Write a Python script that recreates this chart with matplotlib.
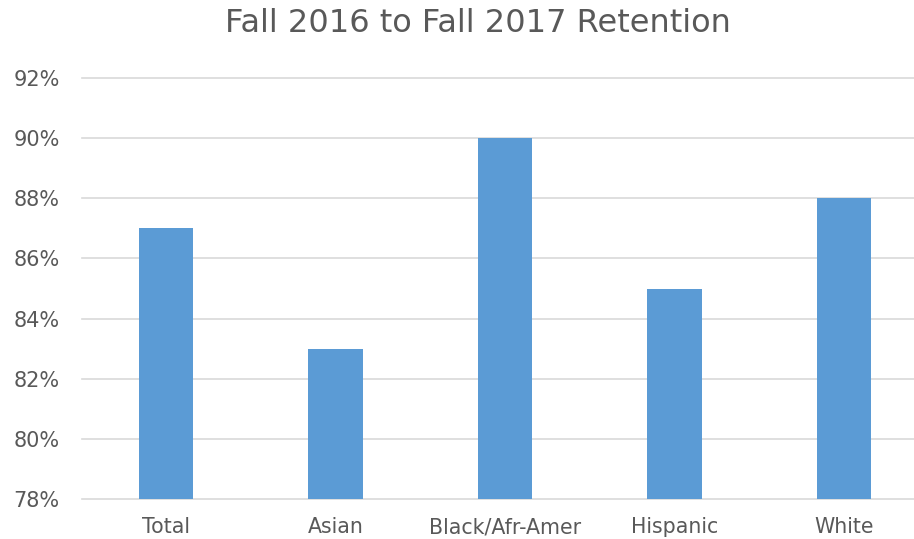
import matplotlib.pyplot as plt

# datos del grafico
grupos = ["Total", "Asian", "Black/Afr-Amer", "Hispanic", "White"]
retencion = [87, 83, 90, 85, 88]
marcas_y = [78, 80, 82, 84, 86, 88, 90, 92]

gris = "#595959"

fig = plt.figure(figsize=(9.14, 5.39), dpi=100)
ax = fig.add_axes([82/914, 1-499/539, 1-82/914, (499-78)/539])

posiciones = list(range(len(grupos)))
ax.bar(posiciones, retencion, width=0.32, color="#5B9BD5", zorder=3)

ax.set_ylim(78, 92)
ax.set_xlim(-0.496, 4.413)
ax.set_yticks(marcas_y)
ax.set_yticklabels([f"{v}%" for v in marcas_y])
ax.set_xticks(posiciones)
ax.set_xticklabels(grupos)

ax.grid(axis="y", color="#D9D9D9", linewidth=1.2, zorder=0)
for linea in ax.get_ygridlines():
    linea.set_clip_on(False)
for lado in ["top", "right", "left", "bottom"]:
    ax.spines[lado].set_visible(False)
ax.tick_params(axis="y", length=0, pad=16, labelsize=15, labelcolor=gris)
ax.tick_params(axis="x", length=0, pad=13, labelsize=14.8, labelcolor=gris)

fig.text(478/914, 1-24/539, "Fall 2016 to Fall 2017 Retention", ha="center", va="center",
         fontsize=23, color=gris)

fig.savefig("out.png", dpi=100)
